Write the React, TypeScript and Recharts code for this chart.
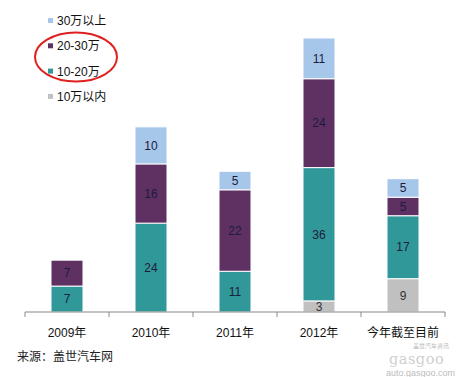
import React from "react";
import { BarChart, Bar, XAxis, YAxis, LabelList } from "recharts";

const categories = ["2009年", "2010年", "2011年", "2012年", "今年截至目前"];
const under10 = [0, 0, 0, 3, 9];
const from10to20 = [7, 24, 11, 36, 17];
const from20to30 = [7, 16, 22, 24, 5];
const over30 = [0, 10, 5, 11, 5];

const seriesNames = ["10万以内", "10-20万", "20-30万", "30万以上"];
const seriesKeys = ["a", "b", "c", "d"];
const seriesColors = ["#C0C0C0", "#31989A", "#5F3163", "#A7C7EA"];

const data = categories.map((cat, i) => ({
  cat,
  a: under10[i],
  b: from10to20[i],
  c: from20to30[i],
  d: over30[i],
}));

const FONT = "'Liberation Sans', 'Noto Sans CJK SC', sans-serif";

const AXIS_Y = 312;

const Tick = (props: any) => {
  const { x, payload, index } = props;
  const off = payload && payload.offset ? payload.offset : 42;
  return (
    <g>
      <line x1={x - off} x2={x - off} y1={AXIS_Y} y2={AXIS_Y + 5} stroke="#888" strokeWidth={1} />
      {index === categories.length - 1 && (
        <line x1={x + off} x2={x + off} y1={AXIS_Y} y2={AXIS_Y + 5} stroke="#888" strokeWidth={1} />
      )}
      <text x={x} y={AXIS_Y + 25} textAnchor="middle" fontSize={12} fill="#111" fontFamily={FONT}>
        {payload.value}
      </text>
    </g>
  );
};

const LegendBox = () => {
  const order = [3, 2, 1, 0];
  return (
    <svg width={160} height={110} style={{ position: "absolute", left: 0, top: 0 }}>
      {order.map((s, i) => (
        <g key={s}>
          <rect x={48} y={18 + i * 25.3} width={5} height={5} fill={seriesColors[s]} />
          <text x={57} y={25 + i * 25.3} fontSize={12} fill="#111" fontFamily={FONT}>
            {seriesNames[s]}
          </text>
        </g>
      ))}
      <ellipse cx={76} cy={57} rx={41} ry={24.5} fill="none" stroke="#E0201E" strokeWidth={2} />
    </svg>
  );
};

const Footer = () => (
  <svg width={472} height={377} style={{ position: "absolute", left: 0, top: 0, pointerEvents: "none" }}>
    <text x={17} y={361} fontSize={12} fill="#222" fontFamily={FONT}>
      来源：盖世汽车网
    </text>
    <text x={413} y={348} fontSize={6} fill="#bbb" fontFamily={FONT}>
      盖世汽车资讯
    </text>
    <text x={389} y={364} fontSize={14.5} fill="#cfcfcf" fontFamily="'DejaVu Serif', serif" letterSpacing={0.5}>
      gasgoo
    </text>
    <text x={386} y={375.5} fontSize={9} fill="#bbb" fontFamily={FONT}>
      auto.gasgoo.com
    </text>
  </svg>
);

const fmt = (v: any) => (v ? v : "");

export default function App() {
  return (
    <div style={{ position: "absolute", left: 0, top: 0, width: 472, height: 377, background: "#fff" }}>
      <BarChart
        width={472}
        height={377}
        data={data}
        margin={{ top: 38, left: 25, right: 27, bottom: 35 }}
        barSize={32}
      >
        <XAxis
          dataKey="cat"
          height={30}
          interval={0}
          axisLine={{ stroke: "#888" }}
          tickLine={false}
          tick={<Tick />}
        />
        <YAxis hide domain={[0, 74]} />
        {seriesKeys.map((k, i) => (
          <Bar
            key={k}
            dataKey={k}
            name={seriesNames[i]}
            stackId="s"
            fill={seriesColors[i]}
            stroke="#fff"
            strokeWidth={1}
            isAnimationActive={false}
          >
            <LabelList
              dataKey={k}
              position="center"
              formatter={fmt}
              fontSize={12}
              fill={i === 0 ? "#333" : "#1b1b3a"}
              fontFamily={FONT}
            />
          </Bar>
        ))}
      </BarChart>
      <LegendBox />
      <Footer />
    </div>
  );
}
